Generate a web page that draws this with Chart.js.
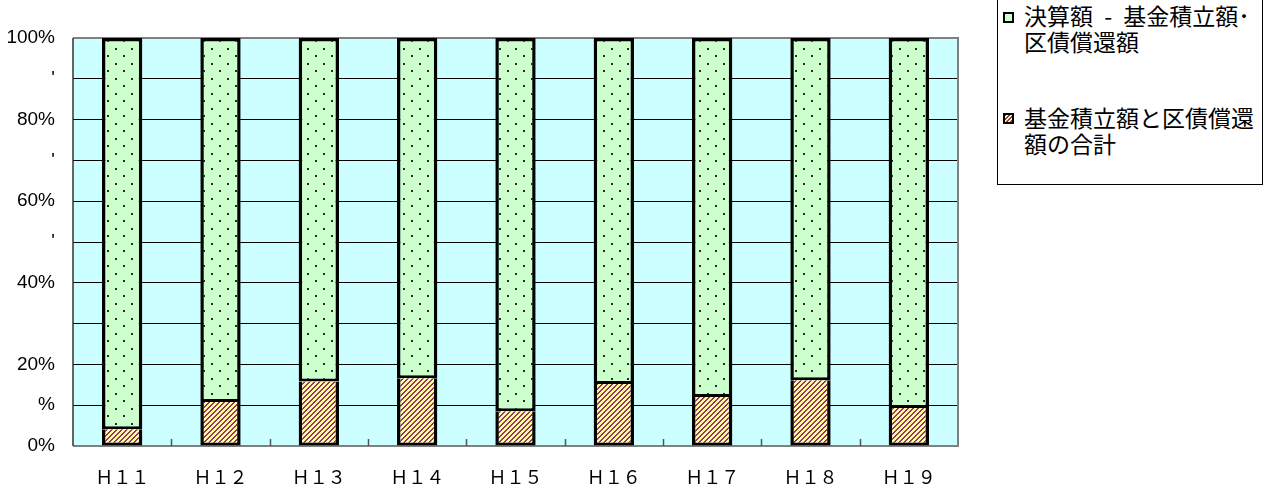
<!DOCTYPE html>
<html><head><meta charset="utf-8">
<script src="https://cdn.jsdelivr.net/npm/chart.js@4"></script>
<style>
html,body{margin:0;padding:0;background:#fff;width:1274px;height:493px;overflow:hidden;}
#wrap{position:relative;width:1274px;height:493px;}
#c{position:absolute;left:0;top:0;}
#legend{position:absolute;left:997px;top:-2px;width:264px;height:185px;border:1px solid #000;background:#fff;font-family:"Noto Sans CJK JP";font-size:23px;line-height:26px;color:#000;}
.item{position:absolute;left:0;width:100%;}
.sw{position:absolute;left:5px;width:7px;height:7px;border:2px solid #000;}
.tx{position:absolute;left:26px;white-space:nowrap;}
</style></head>
<body>
<div id="wrap">
<canvas id="c" width="1274" height="493"></canvas>
<div id="legend">
  <div class="item" style="top:3px;"><span class="sw" style="top:10px;background:#CCFFCC;"></span><div class="tx" style="word-spacing:6px;">決算額 - 基金積立額･<br>区債償還額</div></div>
  <div class="item" style="top:105px;"><span class="sw" style="top:9px;background:repeating-linear-gradient(135deg,#993366 0 1.4px,#FFFF99 1.4px 2.8px);"></span><div class="tx">基金積立額と区債償還<br>額の合計</div></div>
</div>
</div>
<script>
const categories = ['Ｈ１１','Ｈ１２','Ｈ１３','Ｈ１４','Ｈ１５','Ｈ１６','Ｈ１７','Ｈ１８','Ｈ１９'];
const fundAndRepayment = [4.1, 10.8, 15.8, 16.6, 8.5, 15.2, 12.0, 16.1, 9.3];
const remainder = [95.9, 89.2, 84.2, 83.4, 91.5, 84.8, 88.0, 83.9, 90.7];
const yTickLabels = ['0%', '%', '20%', '', '40%', "'", '60%', "'", '80%', "'", '100%'];
const seriesNames = ['基金積立額と区債償還額の合計', '決算額 - 基金積立額･区債償還額'];

function stripePattern(){
  const s = 5, cv = document.createElement('canvas');
  cv.width = s; cv.height = s;
  const g = cv.getContext('2d');
  for (let y = 0; y < s; y++) for (let x = 0; x < s; x++){
    g.fillStyle = ((x + y) % 5) < 2 ? '#993366' : '#FFFF99';
    g.fillRect(x, y, 1, 1);
  }
  return g.createPattern(cv, 'repeat');
}
function dotPattern(){
  const w = 16, h = 15, cv = document.createElement('canvas');
  cv.width = w; cv.height = h;
  const g = cv.getContext('2d');
  g.fillStyle = '#CCFFCC'; g.fillRect(0,0,w,h);
  g.fillStyle = '#2a2a2a';
  g.fillRect(3,3,2,2);
  g.fillRect(11,10,2,2);
  return g.createPattern(cv, 'repeat');
}

const plotDecor = {
  id: 'plotDecor',
  beforeDraw(chart){
    const a = chart.chartArea, ctx = chart.ctx;
    ctx.save();
    ctx.fillStyle = '#CCFFFF';
    ctx.fillRect(a.left, a.top, a.right - a.left, a.bottom - a.top);
    ctx.restore();
  },
  beforeDatasetsDraw(chart){
    const a = chart.chartArea, ctx = chart.ctx, xs = chart.scales.x;
    ctx.save();
    ctx.strokeStyle = '#808080'; ctx.lineWidth = 2;
    ctx.beginPath();
    ctx.moveTo(a.left, a.top); ctx.lineTo(a.right, a.top); ctx.lineTo(a.right, a.bottom); ctx.lineTo(a.left, a.bottom);
    ctx.stroke();
    ctx.strokeStyle = '#333333'; ctx.lineWidth = 1.5;
    ctx.beginPath(); ctx.moveTo(a.left, a.top); ctx.lineTo(a.left, a.bottom); ctx.stroke();
    ctx.strokeStyle = '#555555'; ctx.lineWidth = 1.5;
    for (let i = 1; i < categories.length; i++){
      const x = Math.round((xs.getPixelForValue(i-1) + xs.getPixelForValue(i)) / 2) + 0.5;
      ctx.beginPath(); ctx.moveTo(x, a.bottom - 7); ctx.lineTo(x, a.bottom); ctx.stroke();
    }
    ctx.restore();
  }
};

new Chart(document.getElementById('c'), {
  type: 'bar',
  data: {
    labels: categories,
    datasets: [
      { label: seriesNames[0], data: fundAndRepayment, backgroundColor: stripePattern(), borderColor: '#000',
        borderWidth: { left: 3.5, right: 3.5, top: 0, bottom: 3 }, borderSkipped: false, inflateAmount: 0,
        barPercentage: 0.41, categoryPercentage: 1 },
      { label: seriesNames[1], data: remainder, backgroundColor: dotPattern(), borderColor: '#000',
        borderWidth: { left: 3.5, right: 3.5, top: 3.5, bottom: 3 }, borderSkipped: false, inflateAmount: 0,
        barPercentage: 0.41, categoryPercentage: 1 }
    ]
  },
  options: {
    responsive: false,
    animation: false,
    devicePixelRatio: 1,
    layout: { padding: { left: 0, right: 316, top: 38, bottom: 0 } },
    plugins: { legend: { display: false }, tooltip: { enabled: false } },
    scales: {
      x: {
        stacked: true,
        grid: { display: false, drawTicks: false },
        border: { display: false },
        ticks: { color: '#000', padding: 20, font: { family: '"Noto Sans CJK JP"', size: 18 } },
        afterFit(s){ s.height = 47; }
      },
      y: {
        stacked: true, min: 0, max: 100,
        grid: {
          drawTicks: false,
          color: (c) => (c.tick && c.tick.value === 100) ? '#808080' : '#000',
          lineWidth: (c) => (c.tick && c.tick.value === 100) ? 2 : 1
        },
        border: { display: false },
        ticks: {
          stepSize: 10, color: '#000', padding: 18,
          font: { family: '"Liberation Sans", Arial', size: 19 },
          callback: (v, i) => yTickLabels[i]
        },
        afterFit(s){ s.width = 73; }
      }
    }
  },
  plugins: [plotDecor]
});
</script>
</body></html>
